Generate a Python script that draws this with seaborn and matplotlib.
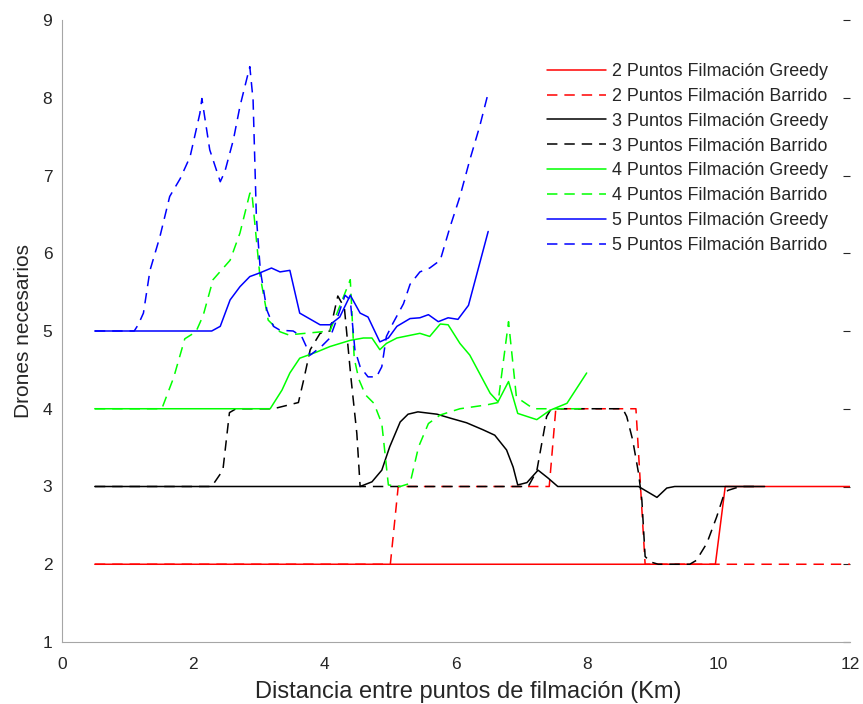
import matplotlib
matplotlib.use("Agg")
import matplotlib.pyplot as plt
import seaborn as sns
import numpy as np

# ---------------- data ----------------
x_2g = [0.5, 9.95, 10.1, 12.0]
y_2g = [2, 2, 3, 3]

x_2b = [0.5, 5.0, 5.12, 7.42, 7.52, 8.74, 8.88, 12.0]
y_2b = [2, 2, 3, 3, 4, 4, 2, 2]

x_3g = [0.5, 4.54, 4.72, 4.87, 4.99, 5.15, 5.27, 5.42, 5.71, 5.91, 6.16, 6.41,
        6.59, 6.77, 6.87, 6.94, 7.08, 7.25, 7.40, 7.55, 8.78, 9.06, 9.21, 9.33, 10.7]
y_3g = [3, 3, 3.06, 3.21, 3.51, 3.83, 3.93, 3.96, 3.93, 3.88, 3.82, 3.73,
        3.66, 3.47, 3.25, 3.02, 3.05, 3.21, 3.11, 3.0, 3.0, 2.86, 2.98, 3.0, 3.0]

x_3b = [0.5, 2.28, 2.45, 2.55, 2.65, 3.22, 3.60, 3.68, 3.78, 3.93, 4.08, 4.20,
        4.30, 4.40, 4.49, 4.54, 7.10, 7.23, 7.38, 7.45, 8.54, 8.60, 8.69, 8.78,
        8.83, 8.88, 8.96, 9.08, 9.56, 9.66, 9.82, 9.97, 10.07, 10.14, 10.33, 10.6]
y_3b = [3, 3, 3.21, 3.95, 4.0, 4.0, 4.08, 4.37, 4.76, 4.97, 5.0, 5.45,
        5.3, 4.4, 3.68, 3.0, 3.0, 3.2, 3.9, 4.0, 4.0, 3.9, 3.6, 3.17,
        2.83, 2.1, 2.03, 2.0, 2.0, 2.05, 2.27, 2.61, 2.87, 2.95, 3.0, 3.0]

x_4g = [0.5, 3.17, 3.35, 3.47, 3.62, 3.88, 4.08, 4.39, 4.59, 4.72, 4.84, 4.94,
        5.10, 5.45, 5.60, 5.76, 5.88, 6.06, 6.21, 6.52, 6.64, 6.80, 6.94, 7.23,
        7.43, 7.69, 7.99]
y_4g = [4, 4, 4.24, 4.46, 4.65, 4.73, 4.80, 4.88, 4.91, 4.91, 4.76, 4.84,
        4.91, 4.97, 4.93, 5.09, 5.08, 4.84, 4.69, 4.2, 4.09, 4.35, 3.94, 3.86,
        3.98, 4.07, 4.46]

x_4b = [0.5, 1.52, 1.70, 1.87, 2.04, 2.15, 2.30, 2.56, 2.71, 2.86, 2.89, 3.01,
        3.14, 3.32, 3.45, 4.08, 4.39, 4.45, 4.52, 4.62, 4.75, 4.87, 4.97, 5.15,
        5.30, 5.43, 5.58, 5.76, 6.06, 6.47, 6.64, 6.80, 6.92, 7.18, 7.99]
y_4b = [4, 4, 4.4, 4.9, 4.99, 5.2, 5.66, 5.91, 6.26, 6.77, 6.79, 5.74,
        5.14, 4.99, 4.95, 5.0, 5.66, 4.65, 4.38, 4.18, 4.07, 3.81, 3.02, 3.0,
        3.04, 3.51, 3.81, 3.92, 4.0, 4.05, 4.08, 5.12, 4.15, 4.0, 4.0]

x_5g = [0.5, 2.28, 2.41, 2.56, 2.71, 2.86, 3.02, 3.19, 3.32, 3.47, 3.62, 3.93,
        4.08, 4.23, 4.39, 4.54, 4.66, 4.84, 4.97, 5.10, 5.30, 5.45, 5.58, 5.73,
        5.88, 6.03, 6.19, 6.49]
y_5g = [5, 5, 5.06, 5.4, 5.57, 5.7, 5.75, 5.81, 5.76, 5.78, 5.23, 5.08,
        5.08, 5.18, 5.46, 5.23, 5.18, 4.86, 4.91, 5.06, 5.16, 5.17, 5.21, 5.12,
        5.17, 5.15, 5.33, 6.28]

x_5b = [0.5, 1.1, 1.16, 1.24, 1.34, 1.49, 1.64, 1.80, 1.95, 2.10, 2.13, 2.25,
        2.41, 2.48, 2.61, 2.71, 2.86, 2.91, 2.96, 3.02, 3.12, 3.22, 3.32, 3.52,
        3.65, 3.78, 3.95, 4.08, 4.18, 4.31, 4.39, 4.46, 4.54, 4.66, 4.79, 4.87,
        4.94, 5.04, 5.20, 5.30, 5.45, 5.60, 5.76, 5.91, 6.06, 6.21, 6.36, 6.49]
y_5b = [5, 5, 5.08, 5.23, 5.78, 6.21, 6.73, 6.96, 7.24, 7.8, 7.99, 7.33,
        6.92, 7.05, 7.46, 7.89, 8.4, 7.97, 6.47, 5.78, 5.27, 5.06, 5.01, 5.0,
        4.93, 4.69, 4.8, 4.91, 5.14, 5.46, 5.4, 4.76, 4.54, 4.41, 4.41, 4.54,
        4.93, 5.1, 5.35, 5.6, 5.76, 5.81, 5.91, 6.34, 6.73, 7.2, 7.63, 8.06]

labels = ["2 Puntos Filmación Greedy", "2 Puntos Filmación Barrido",
          "3 Puntos Filmación Greedy", "3 Puntos Filmación Barrido",
          "4 Puntos Filmación Greedy", "4 Puntos Filmación Barrido",
          "5 Puntos Filmación Greedy", "5 Puntos Filmación Barrido"]
series_x = [x_2g, x_2b, x_3g, x_3b, x_4g, x_4b, x_5g, x_5b]
series_y = [y_2g, y_2b, y_3g, y_3b, y_4g, y_4b, y_5g, y_5b]
colors = ["#ff0000", "#ff0000", "#000000", "#000000",
          "#00ff00", "#00ff00", "#0000ff", "#0000ff"]
dashed = [False, True, False, True, False, True, False, True]

x_ticks = [0, 2, 4, 6, 8, 10, 12]
y_ticks = [1, 2, 3, 4, 5, 6, 7, 8, 9]

# ---------------- style ----------------
sns.set_theme(style="white")
plt.rcParams['font.family'] = ['Liberation Sans', 'DejaVu Sans']
plt.rcParams['lines.scale_dashes'] = False

fig = plt.figure(figsize=(8.63, 7.04), dpi=100)
W, H = 863, 704
ax = fig.add_axes([62 / W, 1 - 642 / H, (850 - 62) / W, (642 - 20) / H])

for xs, ys, c, d, lab in zip(series_x, series_y, colors, dashed, labels):
    sns.lineplot(x=xs, y=ys, ax=ax, color=c, estimator=None, sort=False,
                 linewidth=1.1, label=lab,
                 linestyle=(0, (7.5, 5.0)) if d else '-')

ax.set_xlim(0, 12)
ax.set_ylim(1, 9)
ax.set_xticks(x_ticks)
ax.set_yticks(y_ticks)
ax.set_xticklabels([str(v) for v in x_ticks])
ax.set_yticklabels([str(v) for v in y_ticks])

for side in ['top', 'right']:
    ax.spines[side].set_visible(False)
for side in ['left', 'bottom']:
    ax.spines[side].set_color('#a6a6a6')
    ax.spines[side].set_linewidth(0.8)

ax.tick_params(axis='both', direction='in', length=5, width=0.8,
               color='#262626', labelcolor='#262626', labelsize=12.5)
ax.tick_params(axis='y', right=True, pad=7)
ax.tick_params(axis='x', pad=11)

ax.set_xlabel("Distancia entre puntos de filmación (Km)", fontsize=17,
              color='#262626')
ax.xaxis.set_label_coords(0.515, -0.062)
ax.set_ylabel("Drones necesarios", fontsize=15, color='#262626', labelpad=7)

leg = ax.legend(loc='upper left', bbox_to_anchor=(0.6155, 0.931),
                frameon=False, fontsize=12.9, handlelength=3.3,
                handletextpad=0.3, labelspacing=0.44, borderpad=0,
                borderaxespad=0)
for t in leg.get_texts():
    t.set_color('#262626')

fig.savefig("out.png", dpi=100)
